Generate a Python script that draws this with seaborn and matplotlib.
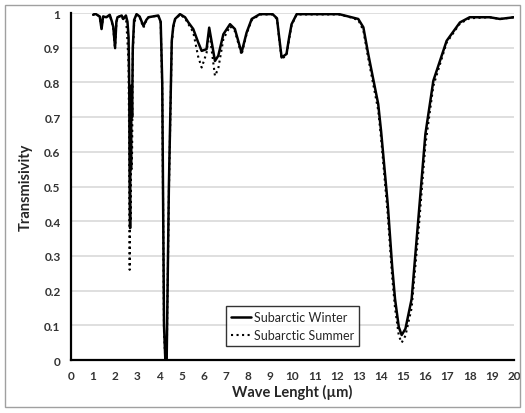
import numpy as np
import pandas as pd
import matplotlib
matplotlib.use("Agg")
import matplotlib.pyplot as plt
from matplotlib.patches import Rectangle
import seaborn as sns

# wavelength (um) and transmissivity
wave = [1.0, 1.1, 1.3, 1.38, 1.45, 1.6, 1.75, 1.85, 1.91, 1.99, 2.05, 2.1,
        2.29, 2.36, 2.48, 2.55, 2.6, 2.63, 2.65, 2.67, 2.69, 2.71, 2.73, 2.76,
        2.79, 2.85, 2.96, 3.1, 3.27, 3.4, 3.5, 3.94, 4.05, 4.12, 4.2, 4.26,
        4.32, 4.42, 4.55, 4.62, 4.7, 4.92, 5.15, 5.3, 5.52, 5.74, 5.9, 6.12,
        6.24, 6.5, 6.65, 6.88, 7.18, 7.4, 7.7, 7.93, 8.16, 8.53, 9.1, 9.3,
        9.4, 9.51, 9.73, 9.85, 9.96, 10.19, 12.1, 12.6, 12.97, 13.2, 13.42,
        13.72, 13.87, 14.0, 14.3, 14.5, 14.63, 14.8, 14.93, 15.1, 15.38, 15.7,
        16.0, 16.36, 16.96, 17.56, 18.0, 18.9, 19.37, 20.0]

winter = [0.995, 0.998, 0.99, 0.954, 0.99, 0.988, 0.995, 0.975, 0.96, 0.901,
          0.975, 0.988, 0.993, 0.983, 0.993, 0.975, 0.93, 0.79, 0.5, 0.38,
          0.79, 0.55, 0.79, 0.7, 0.9, 0.98, 0.997, 0.99, 0.963, 0.98, 0.988,
          0.993, 0.975, 0.8, 0.1, 0.0, 0.0, 0.5, 0.92, 0.963, 0.983, 0.997,
          0.988, 0.973, 0.954, 0.916, 0.891, 0.896, 0.958, 0.862, 0.877,
          0.939, 0.968, 0.954, 0.886, 0.944, 0.983, 0.997, 0.997, 0.985,
          0.93, 0.872, 0.882, 0.93, 0.968, 0.997, 0.997, 0.989, 0.983, 0.959,
          0.882, 0.786, 0.738, 0.66, 0.45, 0.27, 0.176, 0.095, 0.072, 0.09,
          0.176, 0.42, 0.651, 0.805, 0.92, 0.973, 0.988, 0.988, 0.983, 0.988]

summer = [0.995, 0.998, 0.99, 0.952, 0.99, 0.988, 0.995, 0.972, 0.955, 0.895,
          0.972, 0.988, 0.993, 0.98, 0.99, 0.92, 0.85, 0.6, 0.26, 0.7,
          0.4, 0.75, 0.55, 0.6, 0.88, 0.97, 0.995, 0.988, 0.958, 0.978, 0.988,
          0.993, 0.972, 0.78, 0.08, 0.0, 0.0, 0.48, 0.91, 0.958, 0.98, 0.996,
          0.985, 0.968, 0.945, 0.875, 0.843, 0.885, 0.95, 0.819, 0.84,
          0.925, 0.962, 0.948, 0.88, 0.94, 0.98, 0.996, 0.996, 0.983,
          0.925, 0.868, 0.878, 0.925, 0.965, 0.996, 0.996, 0.988, 0.98, 0.95,
          0.87, 0.77, 0.72, 0.64, 0.42, 0.24, 0.15, 0.07, 0.05, 0.07,
          0.15, 0.38, 0.62, 0.79, 0.915, 0.97, 0.985, 0.988, 0.983, 0.988]

sns.set_style("white")
plt.rcParams['font.family'] = ['Lato', 'DejaVu Sans']

fig = plt.figure(figsize=(5.25, 4.14), dpi=100)
ax = fig.add_axes([0.1352, 0.128, 0.8438, 0.838])

sns.lineplot(x=wave, y=winter, ax=ax, color='black', linewidth=1.8,
             sort=False, estimator=None, label='Subarctic Winter')
sns.lineplot(x=wave, y=summer, ax=ax, color='black', linewidth=1.5,
             linestyle=':', sort=False, estimator=None, label='Subarctic Summer')

ax.set_xlim(0, 20)
ax.set_ylim(0, 1)
ax.set_xticks(range(0, 21))
ax.set_yticks(np.arange(0, 1.01, 0.1))
ax.set_yticklabels(['0', '0.1', '0.2', '0.3', '0.4', '0.5', '0.6', '0.7',
                    '0.8', '0.9', '1'])
ax.yaxis.grid(True, color='#d9d9d9', linewidth=1.2)
ax.xaxis.grid(False)
ax.set_axisbelow(True)
for s in ['top', 'right']:
    ax.spines[s].set_visible(False)
for s in ['left', 'bottom']:
    ax.spines[s].set_color('black')
    ax.spines[s].set_linewidth(1.6)
ax.tick_params(axis='both', direction='out', length=4, width=1.3,
               color='black', labelsize=8.5, labelcolor='#333333')
for lab in ax.get_xticklabels() + ax.get_yticklabels():
    lab.set_fontweight('bold')

ax.set_xlabel('Wave Lenght (\u00b5m)', fontsize=10.5, fontweight='bold', labelpad=2)
ax.set_ylabel('Transmisivity', fontsize=10.5, fontweight='bold', labelpad=8)

leg = ax.legend(loc='lower left', bbox_to_anchor=(0.35, 0.04), fontsize=9,
                frameon=True, fancybox=False, edgecolor='black',
                handlelength=1.6, handletextpad=0.2, borderpad=0.4,
                labelspacing=0.5, borderaxespad=0)
leg.get_frame().set_linewidth(1.0)

fig.patches.append(Rectangle((5 / 525, 6 / 414), 515 / 525, 402 / 414,
                             transform=fig.transFigure, fill=False,
                             edgecolor='#a0a0a0', linewidth=1.0))

fig.savefig('out.png', dpi=100)
